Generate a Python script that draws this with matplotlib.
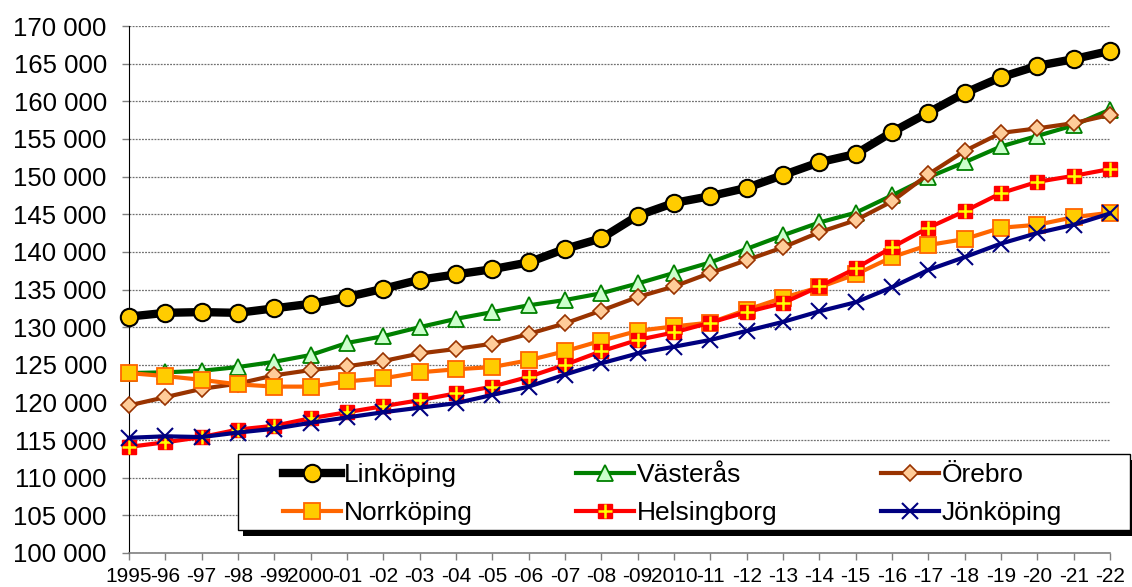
import matplotlib
matplotlib.use("Agg")
import matplotlib.pyplot as plt
from matplotlib.ticker import FuncFormatter
from matplotlib.legend_handler import HandlerTuple
from matplotlib.patches import Rectangle

plt.rcParams['font.family'] = ['Liberation Sans', 'DejaVu Sans']

years = list(range(1995, 2023))
xlabels = ["1995", "-96", "-97", "-98", "-99", "2000", "-01", "-02", "-03", "-04",
           "-05", "-06", "-07", "-08", "-09", "2010", "-11", "-12", "-13", "-14",
           "-15", "-16", "-17", "-18", "-19", "-20", "-21", "-22"]

linkoping = [131400, 131900, 132000, 131900, 132500, 133100, 134000, 135100, 136300, 137000,
             137700, 138600, 140400, 141800, 144800, 146500, 147400, 148500, 150200, 151900,
             153000, 155900, 158500, 161100, 163200, 164700, 165600, 166700]
vasteras = [123900, 124000, 124200, 124700, 125400, 126300, 127900, 128800, 130000, 131100,
            132000, 132900, 133600, 134500, 135800, 137200, 138600, 140400, 142200, 143900,
            145200, 147500, 149900, 151900, 154000, 155400, 156800, 158900]
orebro = [119600, 120700, 121800, 122500, 123600, 124300, 124800, 125500, 126500, 127100,
          127800, 129100, 130500, 132200, 134000, 135400, 137200, 138900, 140600, 142600,
          144200, 146700, 150300, 153400, 155800, 156400, 157100, 158200]
norrkoping = [123900, 123500, 123000, 122400, 122100, 122100, 122800, 123200, 124000, 124400,
              124700, 125600, 126800, 128200, 129500, 130100, 130600, 132300, 133900, 135300,
              137000, 139300, 140900, 141700, 143200, 143600, 144600, 145200]
helsingborg = [114100, 114700, 115400, 116400, 116900, 117900, 118700, 119500, 120300, 121200,
               122100, 123400, 125000, 126800, 128300, 129300, 130600, 132000, 133200, 135400,
               137800, 140600, 143200, 145400, 147800, 149300, 150100, 151000]
jonkoping = [115300, 115500, 115400, 116000, 116500, 117300, 118000, 118700, 119300, 119900,
             121000, 122100, 123700, 125200, 126500, 127400, 128300, 129500, 130700, 132100,
             133300, 135300, 137600, 139300, 141100, 142500, 143600, 145100]

W, H = 1132, 587
fig = plt.figure(figsize=(W / 100, H / 100), dpi=100)
ax = fig.add_axes([129 / W, 1 - 553 / H, (1110 - 129) / W, (553 - 26) / H])

x = list(range(len(years)))

l1, = ax.plot(x, linkoping, color='black', lw=6, marker='o', ms=12.5,
              mfc='#FFCC00', mec='black', mew=1.5, clip_on=False, zorder=3)
l2, = ax.plot(x, vasteras, color='#008000', lw=3, marker='^', ms=11.5,
              mfc='#CCFFCC', mec='#008000', mew=1.3, clip_on=False, zorder=4)
l3, = ax.plot(x, orebro, color='#993300', lw=3, marker='D', ms=8.5,
              mfc='#FFCC99', mec='#993300', mew=1.2, clip_on=False, zorder=5)
l4, = ax.plot(x, norrkoping, color='#FF6600', lw=3, marker='s', ms=11,
              mfc='#FFCC00', mec='#FF6600', mew=1.3, clip_on=False, zorder=6)
l5, = ax.plot(x, helsingborg, color='#FF0000', lw=3, marker='s', ms=10.5,
              mfc='#FF0000', mec='#FF0000', mew=1, clip_on=False, zorder=7)
l5p, = ax.plot(x, helsingborg, ls='none', marker='+', ms=10.5, mec='#FFFF00', mew=1.8,
               clip_on=False, zorder=7.5)
l6, = ax.plot(x, jonkoping, color='#000080', lw=3, marker='x', ms=11,
              mec='#000080', mew=1.5, clip_on=False, zorder=8)

ax.set_xlim(0, len(years) - 1)
ax.set_ylim(100000, 170000)
ax.set_yticks(range(100000, 170001, 5000))
ax.yaxis.set_major_formatter(FuncFormatter(lambda v, p: f"{int(v):,}".replace(",", " ")))
ax.set_xticks(x)
ax.set_xticklabels(xlabels)

ax.grid(axis='y', color='#707070', ls=(0, (1.5, 1)), lw=0.9, zorder=0)
ax.set_axisbelow(True)

for s in ['top', 'right']:
    ax.spines[s].set_visible(False)
ax.spines['left'].set_color('black')
ax.spines['bottom'].set_color('#808080')
ax.spines['bottom'].set_linewidth(1.2)

ax.tick_params(axis='y', direction='out', length=5, width=1, color='#808080',
               labelsize=18.5, pad=11)
ax.tick_params(axis='x', direction='out', length=5, width=1, color='#808080',
               labelsize=15, pad=5)

# legend frame with shadow (drawn in figure pixels)
shadow = Rectangle((243 / W, 1 - 536 / H), (1135 - 243) / W, (536 - 460) / H,
                   transform=fig.transFigure, facecolor='black', edgecolor='none', zorder=3)
frame = Rectangle((238 / W, 1 - 530 / H), (1130 - 238) / W, (530 - 454) / H,
                  transform=fig.transFigure, facecolor='white', edgecolor='black',
                  lw=1, zorder=3.5)
fig.patches.extend([shadow, frame])

# column-major order so rows read: Linköping, Västerås, Örebro / Norrköping, Helsingborg, Jönköping
handles = [l1, l4, l2, (l5, l5p), l3, l6]
labels = ['Linköping', 'Norrköping', 'Västerås', 'Helsingborg', 'Örebro', 'Jönköping']
leg = fig.legend(handles, labels, ncol=3, loc='upper left',
                 bbox_to_anchor=(283 / W, 1 - 528 / H, (1062 - 283) / W, (528 - 463) / H),
                 mode='expand', fontsize=19, frameon=False, borderaxespad=0,
                 borderpad=0, handlelength=2.2, handletextpad=0.1, labelspacing=0.53,
                 handler_map={tuple: HandlerTuple(ndivide=1, pad=0)})
leg.set_zorder(4)

fig.savefig('out.png', dpi=100)
